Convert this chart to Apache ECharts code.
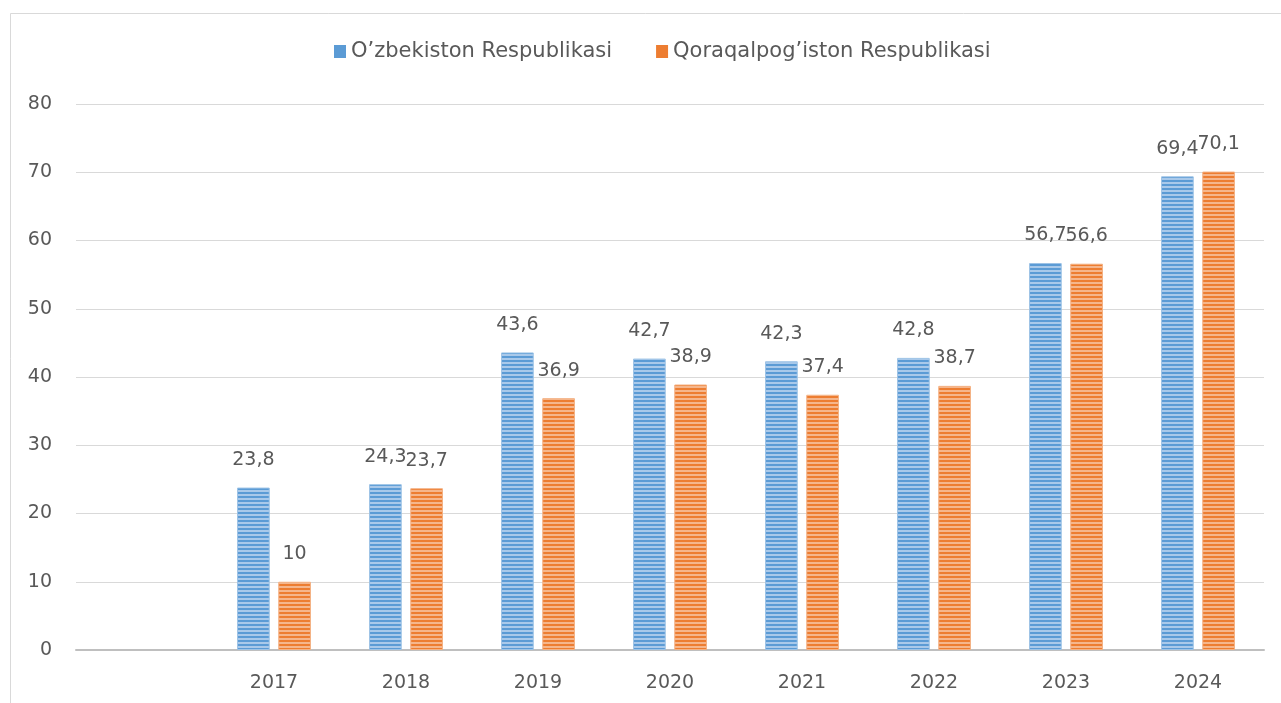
<!DOCTYPE html>
<html>
<head>
<meta charset="utf-8">
<script src="https://cdn.jsdelivr.net/npm/echarts@6/dist/echarts.min.js"></script>
<style>
html, body { margin: 0; padding: 0; background: #fff; }
#chart { width: 1281px; height: 703px; }
</style>
</head>
<body>
<div id="chart"></div>
<script>
// data
var years = ['', '2017', '2018', '2019', '2020', '2021', '2022', '2023', '2024'];
var uzbekistan = [null, 23.8, 24.3, 43.6, 42.7, 42.3, 42.8, 56.7, 69.4];
var karakalpak = [null, 10, 23.7, 36.9, 38.9, 37.4, 38.7, 56.6, 70.1];
var seriesNames = ['O\u2019zbekiston Respublikasi', 'Qoraqalpog\u2019iston Respublikasi'];

// horizontal stripe fill like the excel pattern
function stripes(dark, light) {
    var c = document.createElement('canvas');
    c.width = 4;
    c.height = 4;
    var ctx = c.getContext('2d');
    ctx.fillStyle = light;
    ctx.fillRect(0, 0, 4, 4);
    ctx.fillStyle = dark;
    ctx.fillRect(0, 0, 4, 2);
    return { image: c, repeat: 'repeat' };
}

var blueFill = stripes('#5B9BD5', '#A9C9EA');
var orangeFill = stripes('#ED7D31', '#F5B68C');

function fmt(p) {
    return String(p.value).replace('.', ',');
}

var myChart = echarts.init(document.getElementById('chart'));
var font = 'DejaVu Sans';

var option = {
    backgroundColor: '#fff',
    animation: false,
    textStyle: { fontFamily: font },
    graphic: [{
        type: 'polyline',
        shape: { points: [[10.5, 703], [10.5, 13.5], [1281, 13.5]] },
        style: { stroke: '#D9D9D9', lineWidth: 1, fill: null }
    }],
    legend: {
        top: 36,
        left: 329,
        itemWidth: 12,
        itemHeight: 13,
        itemGap: 44,
        icon: 'rect',
        textStyle: { color: '#595959', fontSize: 21, fontFamily: font },
        data: seriesNames
    },
    grid: { left: 76, right: 17, top: 104, bottom: 53 },
    xAxis: {
        type: 'category',
        data: years,
        axisTick: { show: false },
        axisLine: { lineStyle: { color: '#BFBFBF', width: 2 } },
        axisLabel: { color: '#595959', fontSize: 19, margin: 24, fontFamily: font }
    },
    yAxis: {
        type: 'value',
        min: 0,
        max: 80,
        interval: 10,
        axisLine: { show: false },
        axisTick: { show: false },
        axisLabel: { color: '#595959', fontSize: 19, margin: 24, fontFamily: font },
        splitLine: { lineStyle: { color: '#D9D9D9', width: 1 } }
    },
    series: [{
        name: seriesNames[0],
        type: 'bar',
        data: uzbekistan,
        barCategoryGap: '44%',
        barGap: '26%',
        itemStyle: { color: blueFill, borderColor: '#9DC3E6', borderWidth: 1 },
        label: {
            show: true, position: 'top', distance: 18,
            color: '#595959', fontSize: 19, fontFamily: font, formatter: fmt
        }
    }, {
        name: seriesNames[1],
        type: 'bar',
        data: karakalpak,
        itemStyle: { color: orangeFill, borderColor: '#F4B183', borderWidth: 1 },
        label: {
            show: true, position: 'top', distance: 18,
            color: '#595959', fontSize: 19, fontFamily: font, formatter: fmt
        }
    }]
};

// legend swatches use plain colours
option.legend.data = [
    { name: seriesNames[0], itemStyle: { color: '#5B9BD5', borderWidth: 0 } },
    { name: seriesNames[1], itemStyle: { color: '#ED7D31', borderWidth: 0 } }
];

myChart.setOption(option);
</script>
</body>
</html>
